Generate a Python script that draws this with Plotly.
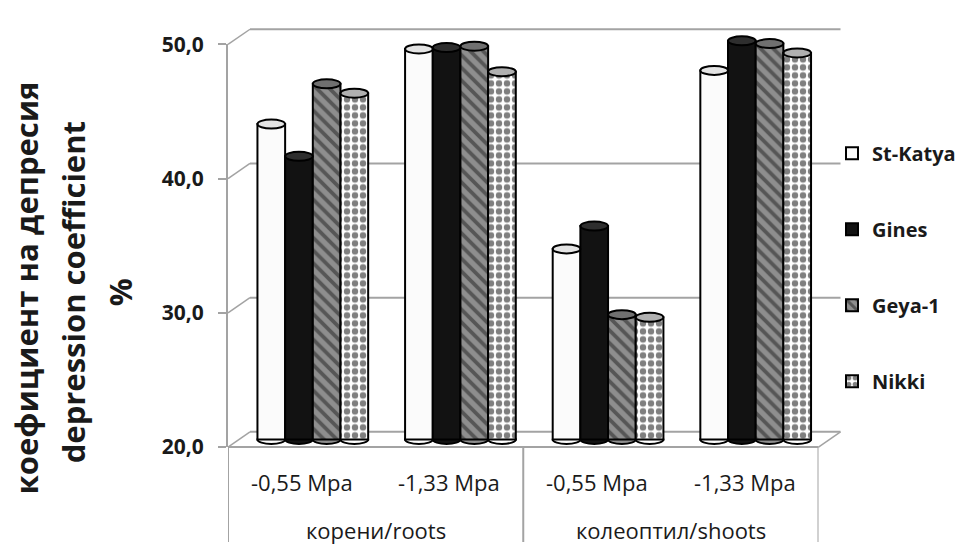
import plotly.graph_objects as go

# ---------------- data ----------------
series_names = ["St-Katya", "Gines", "Geya-1", "Nikki"]
organ_labels = ["корени/roots", "колеоптил/shoots"]
pressure_labels = ["-0,55 Mpa", "-1,33 Mpa", "-0,55 Mpa", "-1,33 Mpa"]
organ_of_category = [0, 0, 1, 1]
st_katya = [43.5, 49.1, 34.2, 47.5]
gines = [41.1, 49.2, 35.9, 49.7]
geya_1 = [46.5, 49.3, 29.3, 49.5]
nikki = [45.8, 47.4, 29.1, 48.8]
y_tick_values = [20, 30, 40, 50]
y_axis_min, y_axis_max = 20, 50
title_lines = ["коефициент на депресия", "depression coefficient", "%"]

series_values = [st_katya, gines, geya_1, nikki]

# ---------------- geometry (pixels) ----------------
W, H = 971, 555
FRONT_X0, FRONT_X1 = 228, 818.5
FRONT_ROW_MIN, FRONT_ROW_MAX = 455, 31
DX, DY = 22, 16
GRID = "#a3a3a3"
TEXT = "#1a1a1a"
FONT = "Open Sans"
ppu = (FRONT_ROW_MIN - FRONT_ROW_MAX) / (y_axis_max - y_axis_min)


def px_x(p):
    return p / W


def px_y(p):
    return 1 - p / H


def front_row(v):
    return FRONT_ROW_MIN - (v - y_axis_min) * ppu


def mid_row(v):
    return front_row(v) - DY / 2


n_cat = len(pressure_labels)
n_ser = len(series_names)
group_frac = 0.75
bw = group_frac / n_ser
bar_lo, bar_hi = y_axis_min - 1, y_axis_max + 1

styles = [
    dict(color="#fbfbfb", pattern=None, top="#e4e4e4"),
    dict(color="#121212", pattern=None, top="#2e2e2e"),
    dict(color="#8e8e8e", pattern=dict(shape="\\", fgcolor="#1e1e1e", bgcolor="#8e8e8e", size=9, solidity=0.42), top="#707070"),
    dict(color="#ffffff", pattern=dict(shape=".", fgcolor="#000000", bgcolor="#ffffff", size=8, solidity=0.5), top="#b0b0b0"),
]

fig = go.Figure()

# dummy trace to create the front subplot (axis with ticks)
fig.add_trace(go.Scatter(x=[0], y=[None], xaxis="x", yaxis="y", showlegend=False,
                         hoverinfo="skip", mode="lines"))

shapes = []
for i, (name, vals, st) in enumerate(zip(series_names, series_values, styles)):
    marker = dict(color=st["color"], line=dict(color="#000000", width=2))
    if st["pattern"]:
        marker["pattern"] = st["pattern"]
    off = -group_frac / 2 + i * bw
    fig.add_trace(go.Bar(
        name=name, x=list(range(n_cat)), y=[v - y_axis_min for v in vals],
        base=y_axis_min, width=bw, offset=off, xaxis="x2", yaxis="y2",
        marker=marker, legendgroup=name, customdata=vals,
        hovertemplate=name + ": %{customdata}<extra></extra>",
    ))
    for g, v in enumerate(vals):
        x0 = g + off
        # top cap
        shapes.append(dict(type="circle", xref="x2", yref="y2", x0=x0, x1=x0 + bw,
                           ysizemode="pixel", yanchor=v, y0=-4.5, y1=4.5,
                           fillcolor=st["top"], line=dict(color="#000000", width=2),
                           layer="above"))
        # bottom rounding
        shapes.append(dict(type="circle", xref="x2", yref="y2", x0=x0, x1=x0 + bw,
                           ysizemode="pixel", yanchor=y_axis_min, y0=-4.5, y1=4.5,
                           fillcolor=st["color"], line=dict(color="#000000", width=2),
                           layer="below"))

# 3D frame: back wall gridlines, left wall diagonals, floor
for v in y_tick_values:
    r = front_row(v)
    shapes.append(dict(type="line", xref="paper", yref="paper",
                       x0=px_x(FRONT_X0 + DX), x1=px_x(FRONT_X1 + DX),
                       y0=px_y(r - DY), y1=px_y(r - DY),
                       line=dict(color=GRID, width=2), layer="below"))
    shapes.append(dict(type="line", xref="paper", yref="paper",
                       x0=px_x(FRONT_X0), x1=px_x(FRONT_X0 + DX),
                       y0=px_y(r), y1=px_y(r - DY),
                       line=dict(color=GRID, width=1.5), layer="below"))
r0 = front_row(y_axis_min)
shapes.append(dict(type="line", xref="paper", yref="paper",
                   x0=px_x(FRONT_X0), x1=px_x(FRONT_X1), y0=px_y(r0), y1=px_y(r0),
                   line=dict(color=GRID, width=2), layer="below"))
shapes.append(dict(type="line", xref="paper", yref="paper",
                   x0=px_x(FRONT_X1), x1=px_x(FRONT_X1 + DX), y0=px_y(r0), y1=px_y(r0 - DY),
                   line=dict(color=GRID, width=1.5), layer="below"))
# category box verticals
boundaries = [-0.5] + [k + 0.5 for k in range(n_cat - 1)
                       if organ_of_category[k] != organ_of_category[k + 1]] + [n_cat - 0.5]
for b in boundaries:
    shapes.append(dict(type="line", xref="x", yref="paper", x0=b, x1=b,
                       y0=0, y1=px_y(r0), line=dict(color=GRID, width=2), layer="below"))

annotations = []
for k, lab in enumerate(pressure_labels):
    annotations.append(dict(x=k, xref="x", y=px_y(492), yref="paper", text=lab,
                            xanchor="center", yanchor="middle",
                            showarrow=False, font=dict(family=FONT, size=22, color=TEXT)))
for o, lab in enumerate(organ_labels):
    idx = [k for k in range(n_cat) if organ_of_category[k] == o]
    annotations.append(dict(x=sum(idx) / len(idx), xref="x", y=px_y(542), yref="paper",
                            text=lab, showarrow=False, xanchor="center", yanchor="middle",
                            font=dict(family=FONT, size=22, color=TEXT)))
for xc, yc, line in zip([26, 73, 120], [288, 292, 292], title_lines):
    annotations.append(dict(x=px_x(xc), xref="paper", y=px_y(yc), yref="paper",
                            text="<b>" + line + "</b>", textangle=-90, showarrow=False,
                            xanchor="center", yanchor="middle",
                            font=dict(family=FONT, size=31, color=TEXT)))

fig.update_layout(
    width=W, height=H, margin=dict(l=0, r=0, t=0, b=0),
    paper_bgcolor="white", plot_bgcolor="rgba(0,0,0,0)",
    separators=", ", barmode="group", showlegend=True,
    xaxis=dict(domain=[px_x(FRONT_X0), px_x(FRONT_X1)], range=[-0.5, n_cat - 0.5],
               visible=False, anchor="y"),
    yaxis=dict(domain=[px_y(FRONT_ROW_MIN), px_y(FRONT_ROW_MAX)],
               range=[y_axis_min, y_axis_max], tickvals=y_tick_values, tickformat=".1f",
               showgrid=False, zeroline=False, showline=True, linecolor=GRID, linewidth=2,
               ticks="outside", ticklen=8, tickcolor=GRID, tickwidth=2, ticklabelstandoff=10,
               tickfont=dict(family=FONT, size=21, color=TEXT, weight="bold"), anchor="x"),
    xaxis2=dict(domain=[px_x(FRONT_X0 + DX / 2), px_x(FRONT_X1 + DX / 2)],
                range=[-0.5, n_cat - 0.5], visible=False, anchor="y2"),
    yaxis2=dict(domain=[px_y(mid_row(bar_lo)), px_y(mid_row(bar_hi))],
                range=[bar_lo, bar_hi], visible=False, anchor="x2"),
    legend=dict(x=px_x(832), y=px_y(125), xanchor="left", yanchor="top",
                bgcolor="rgba(0,0,0,0)", tracegroupgap=47,
                font=dict(family=FONT, size=20, color=TEXT, weight="bold")),
    shapes=shapes, annotations=annotations,
)

fig.write_html("out.html")
